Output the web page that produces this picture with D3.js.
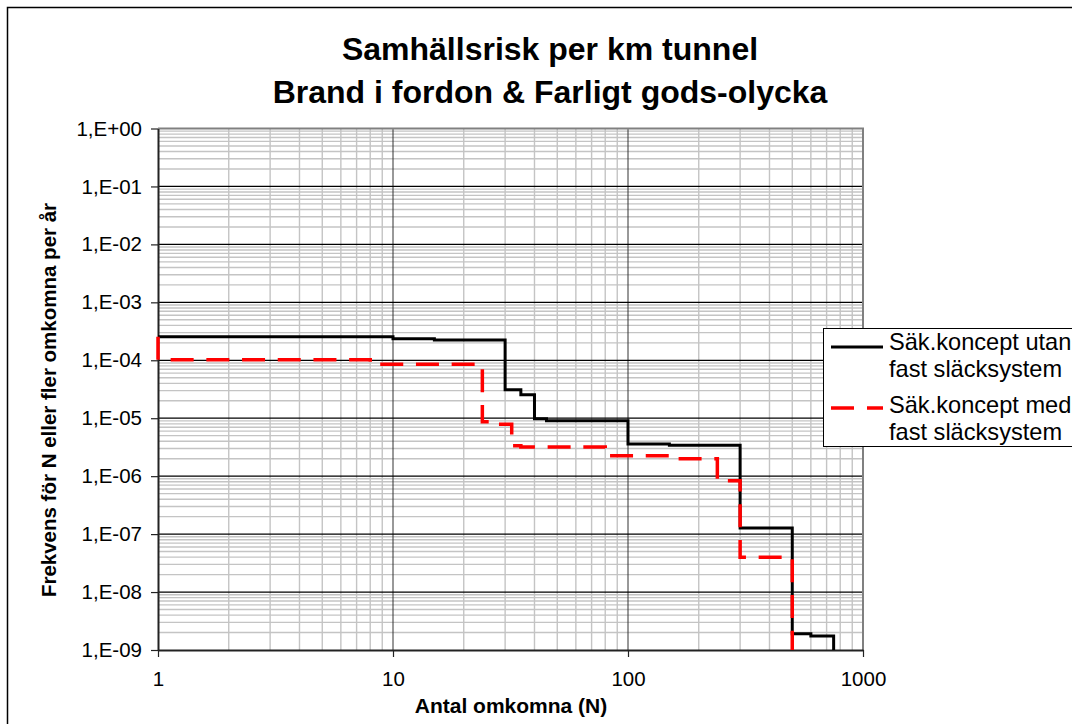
<!DOCTYPE html>
<html>
<head>
<meta charset="utf-8">
<script src="https://cdn.jsdelivr.net/npm/d3@7"></script>
<style>
  html, body { margin: 0; padding: 0; background: #fff; }
  svg { display: block; font-family: "Liberation Sans", Arial, sans-serif; }
</style>
</head>
<body>
<svg id="chart" width="1072" height="724"></svg>
<script>
// Societal risk (F/N curve) per km of tunnel
const titleLines = ["Samhällsrisk per km tunnel", "Brand i fordon & Farligt gods-olycka"];
const xTitle = "Antal omkomna (N)";
const yTitle = "Frekvens för N eller fler omkomna per år";

const xTickValues = [1, 10, 100, 1000];
const xTickLabels = ["1", "10", "100", "1000"];
const yTickValues = [1e0, 1e-1, 1e-2, 1e-3, 1e-4, 1e-5, 1e-6, 1e-7, 1e-8, 1e-9];
const yTickLabels = ["1,E+00", "1,E-01", "1,E-02", "1,E-03", "1,E-04", "1,E-05", "1,E-06", "1,E-07", "1,E-08", "1,E-09"];

// Without fixed extinguishing system: step starts (N) and frequency level
const utanN = [1, 10, 15, 30, 35, 40, 45, 100, 150, 300, 500, 600, 750];
const utanF = [2.55e-4, 2.36e-4, 2.24e-4, 3.1e-5, 2.54e-5, 9.8e-6, 9.0e-6, 3.6e-6, 3.4e-6, 1.28e-7, 1.9e-9, 1.75e-9, 1e-9];

// With fixed extinguishing system
const medN = [1, 1, 8, 24, 27, 32, 35, 80, 150, 240, 300, 500];
const medF = [2.55e-4, 1.02e-4, 8.5e-5, 8.7e-6, 7.9e-6, 3.35e-6, 3.2e-6, 2.24e-6, 2.0e-6, 8.3e-7, 4.0e-8, 1e-9];

const seriesNames = [["Säk.koncept utan", "fast släcksystem"], ["Säk.koncept med", "fast släcksystem"]];

const svg = d3.select("#chart");
const plot = { left: 158, right: 863, top: 128.5, bottom: 650 };

const x = d3.scaleLog().domain([1, 1000]).range([plot.left, plot.right]);
const y = d3.scaleLog().domain([1e-9, 1]).range([plot.bottom, plot.top]);

// Outer chart frame
svg.append("rect")
  .attr("x", 7.5).attr("y", 7.5)
  .attr("width", 1200).attr("height", 900)
  .attr("fill", "#fff").attr("stroke", "#000").attr("stroke-width", 1.5);

// Titles
const title = svg.append("g").attr("font-weight", "bold").attr("font-size", 32).attr("text-anchor", "middle");
title.selectAll("text").data(titleLines).join("text")
  .attr("x", 550).attr("y", (d, i) => 60 + i * 43)
  .text(d => d);

// Minor gridlines (2..9 within each decade)
const minorX = [], minorY = [];
for (let e = 0; e < 3; e++) for (let m = 2; m <= 9; m++) minorX.push(m * Math.pow(10, e));
for (let e = -9; e < 0; e++) for (let m = 2; m <= 9; m++) minorY.push(m * Math.pow(10, e));

const grid = svg.append("g");
grid.selectAll(".mx").data(minorX).join("line")
  .attr("x1", d => x(d)).attr("x2", d => x(d))
  .attr("y1", plot.top).attr("y2", plot.bottom)
  .attr("stroke", "#c4c4c4").attr("stroke-width", 1.4);
grid.selectAll(".my").data(minorY).join("line")
  .attr("x1", plot.left).attr("x2", plot.right)
  .attr("y1", d => y(d)).attr("y2", d => y(d))
  .attr("stroke", "#c4c4c4").attr("stroke-width", 1.4);

// Major gridlines
grid.selectAll(".Mx").data(xTickValues.slice(1, 3)).join("line")
  .attr("x1", d => x(d)).attr("x2", d => x(d))
  .attr("y1", plot.top).attr("y2", plot.bottom)
  .attr("stroke", "#333").attr("stroke-width", 1);
grid.selectAll(".My").data(yTickValues.slice(1, 9)).join("line")
  .attr("x1", plot.left).attr("x2", plot.right)
  .attr("y1", d => y(d)).attr("y2", d => y(d))
  .attr("stroke", "#000").attr("stroke-width", 1.2);

// Plot area frame (top and right)
svg.append("path")
  .attr("d", `M${plot.left},${plot.top}H${plot.right}V${plot.bottom}`)
  .attr("fill", "none").attr("stroke", "#808080").attr("stroke-width", 2);

// Axes
const xAxis = d3.axisBottom(x).tickValues(xTickValues).tickFormat((d, i) => xTickLabels[i])
  .tickSizeInner(7).tickSizeOuter(0).tickPadding(14);
const yAxis = d3.axisLeft(y).tickValues(yTickValues).tickFormat((d, i) => yTickLabels[i])
  .tickSizeInner(7).tickSizeOuter(0).tickPadding(9);

const gx = svg.append("g").attr("transform", `translate(0,${plot.bottom})`).call(xAxis);
const gy = svg.append("g").attr("transform", `translate(${plot.left},0)`).call(yAxis);
[gx, gy].forEach(g => {
  g.select(".domain").attr("stroke", "#222").attr("stroke-width", 2);
  g.selectAll(".tick line").attr("stroke", "#222").attr("stroke-width", 1.2);
  g.selectAll(".tick text").attr("font-size", 20.5).attr("fill", "#000")
    .attr("font-family", "'Liberation Sans', Arial, sans-serif");
});

// Axis titles
svg.append("text")
  .attr("x", 511).attr("y", 713)
  .attr("text-anchor", "middle").attr("font-weight", "bold").attr("font-size", 21)
  .text(xTitle);
svg.append("text")
  .attr("transform", "translate(56,400) rotate(-90)")
  .attr("text-anchor", "middle").attr("font-weight", "bold").attr("font-size", 20.5)
  .text(yTitle);

// Step curves
const stepLine = d3.line().x(d => x(d[0])).y(d => y(d[1])).curve(d3.curveStepAfter);
const utanPts = utanN.map((n, i) => [n, utanF[i]]);
const medPts = medN.map((n, i) => [n, medF[i]]);

svg.append("path").attr("d", stepLine(utanPts))
  .attr("fill", "none").attr("stroke", "#000").attr("stroke-width", 3)
  .attr("stroke-linejoin", "miter");
svg.append("path").attr("d", stepLine(medPts))
  .attr("fill", "none").attr("stroke", "#ff0000").attr("stroke-width", 3.5)
  .attr("stroke-dasharray", "23,12.7");

// Legend
const legend = svg.append("g");
legend.append("rect")
  .attr("x", 823.5).attr("y", 328.5).attr("width", 400).attr("height", 118)
  .attr("fill", "#fff").attr("stroke", "#000").attr("stroke-width", 1);
const legendStyles = [
  { color: "#000", width: 3, dash: null, ly: 347 },
  { color: "#ff0000", width: 3.5, dash: "23,13", ly: 408 }
];
legendStyles.forEach((s, i) => {
  legend.append("line")
    .attr("x1", 831).attr("x2", 883).attr("y1", s.ly).attr("y2", s.ly)
    .attr("stroke", s.color).attr("stroke-width", s.width)
    .attr("stroke-dasharray", s.dash);
  legend.append("g").selectAll("text").data(seriesNames[i]).join("text")
    .attr("x", 889).attr("y", (d, j) => (i === 0 ? 350 : 413) + j * 27)
    .attr("font-size", 23.6).attr("fill", "#000")
    .text(d => d);
});
</script>
</body>
</html>
